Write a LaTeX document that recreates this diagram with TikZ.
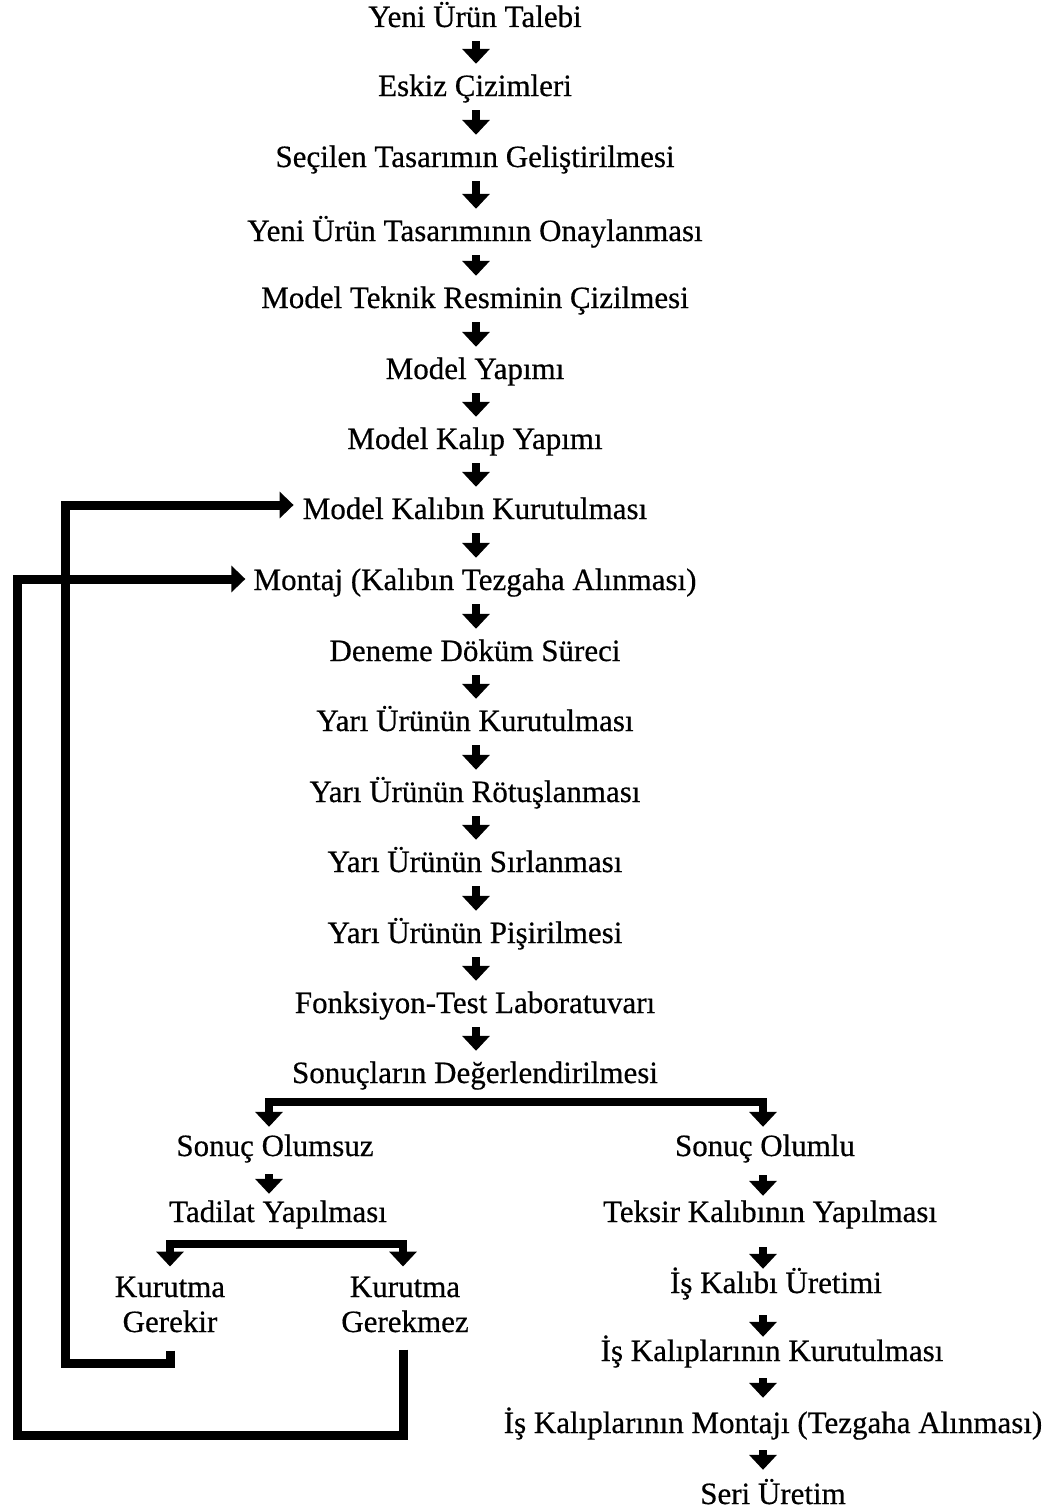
\documentclass[tikz,border=0pt]{standalone}
\usepackage{fontspec}
\setmainfont{Liberation Serif}[FakeBold=0.5]
\usetikzlibrary{arrows.meta}
\tikzset{
  txt/.style={font=\fontsize{31}{35}\selectfont, inner sep=0pt, text height=22pt, text depth=0pt, anchor=base},
  two/.style={font=\fontsize{31}{35}\selectfont, inner sep=0pt, align=center, anchor=center},
  small/.style={line width=7.5pt, -{Triangle[width=27pt,length=15pt]}, shorten <=14pt, shorten >=10pt},
  fork/.style={line width=8.5pt, line join=miter, {Triangle[width=27pt,length=15pt]}-{Triangle[width=27pt,length=15pt]}},
  loopline/.style={line width=9pt, line join=miter, -{Triangle[width=26pt,length=14pt]}}
}
\begin{document}
\begin{tikzpicture}[x=1pt,y=-1pt]
\fill[white] (0,0) rectangle (1056,1512);
\useasboundingbox (0,0) rectangle (1056,1512);
% main column
\node[txt] (n1)  at (475,27)   {Yeni Ürün Talebi};
\node[txt] (n2)  at (475,96)   {Eskiz Çizimleri};
\node[txt] (n3)  at (475,167)  {Seçilen Tasarımın Geliştirilmesi};
\node[txt] (n4)  at (475,241)  {Yeni Ürün Tasarımının Onaylanması};
\node[txt] (n5)  at (475,308)  {Model Teknik Resminin Çizilmesi};
\node[txt] (n6)  at (475,379)  {Model Yapımı};
\node[txt] (n7)  at (475,449)  {Model Kalıp Yapımı};
\node[txt] (n8)  at (475,519)  {Model Kalıbın Kurutulması};
\node[txt] (n9)  at (475,590)  {Montaj (Kalıbın Tezgaha Alınması)};
\node[txt] (n10) at (475,661)  {Deneme Döküm Süreci};
\node[txt] (n11) at (475,731)  {Yarı Ürünün Kurutulması};
\node[txt] (n12) at (475,802)  {Yarı Ürünün Rötuşlanması};
\node[txt] (n13) at (475,872)  {Yarı Ürünün Sırlanması};
\node[txt] (n14) at (475,943)  {Yarı Ürünün Pişirilmesi};
\node[txt] (n15) at (475,1013) {Fonksiyon-Test Laboratuvarı};
\node[txt] (n16) at (475,1083) {Sonuçların Değerlendirilmesi};
% left branch
\node[txt] (olumsuz) at (275,1156) {Sonuç Olumsuz};
\node[txt] (tadilat) at (278,1222) {Tadilat Yapılması};
\node[two] (gerekir) at (170,1304.5) {Kurutma\\Gerekir};
\node[two] (gerekmez) at (405,1304.5) {Kurutma\\Gerekmez};
% right branch
\node[txt] (olumlu) at (765,1156) {Sonuç Olumlu};
\node[txt] (teksir) at (770,1222) {Teksir Kalıbının Yapılması};
\node[txt] (iskalibi) at (776,1293) {İş Kalıbı Üretimi};
\node[txt] (iskurut) at (772,1361) {İş Kalıplarının Kurutulması};
\node[txt] (ismontaj) at (773,1433) {İş Kalıplarının Montajı (Tezgaha Alınması)};
\node[txt] (seri) at (773,1504) {Seri Üretim};
% helper coordinates
\coordinate (mx) at (476,0);
\coordinate (lx) at (269,0);
\coordinate (rx) at (763,0);
\coordinate (fc1) at (476,1102);
\coordinate (fc2) at (290,1244);
\coordinate (gx) at (403,0);
\coordinate (lp1) at (65,1363);
\coordinate (lp2) at (17,1435);
% main arrows
\foreach \a/\b in {n1/n2,n2/n3,n3/n4,n4/n5,n5/n6,n6/n7,n7/n8,n8/n9,n9/n10,n10/n11,n11/n12,n12/n13,n13/n14,n14/n15,n15/n16}
  \draw[small] (\a.south -| mx) -- (\b.north -| mx);
% left arrows
\draw[small, shorten <=18pt, shorten >=6pt] (olumsuz.south -| lx) -- (tadilat.north -| lx);
% right arrows
\draw[small, shorten <=19pt, shorten >=4pt] (olumlu.south -| rx) -- (teksir.north -| rx);
\draw[small, shorten <=25pt, shorten >=2pt] (teksir.south -| rx) -- (iskalibi.north -| rx);
\draw[small, shorten <=22pt, shorten >=2pt] (iskalibi.south -| rx) -- (iskurut.north -| rx);
\draw[small, shorten <=17pt, shorten >=13pt] (iskurut.south -| rx) -- (ismontaj.north -| rx);
\draw[small, shorten <=17pt, shorten >=12pt] (ismontaj.south -| rx) -- (seri.north -| rx);
% forks
\draw[fork, shorten <=7pt, shorten >=7pt] (olumsuz.north -| lx) |- (fc1) -| (olumlu.north -| rx);
\draw[fork, shorten <=10pt, shorten >=10pt] (gerekir.north) |- (fc2) -| (gerekmez.north -| gx);
% feedback loops
\draw[loopline, shorten <=18pt, shorten >=9pt] (gerekir.south) |- (lp1) |- ([yshift=3pt]n8.west);
\draw[loopline, shorten <=17pt, shorten >=8pt] (gerekmez.south -| gx) |- (lp2) |- ([yshift=0pt]n9.west);
\end{tikzpicture}
\end{document}
